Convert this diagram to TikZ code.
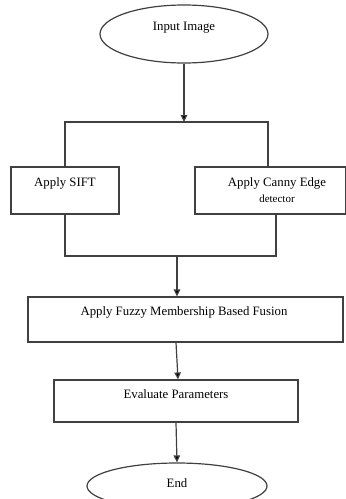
\documentclass[tikz,border=0pt]{standalone}
\usepackage{fontspec}
\setmainfont{Liberation Serif}
\usetikzlibrary{shapes.geometric,arrows.meta}
\begin{document}
\begin{tikzpicture}[x=1pt,y=-1pt,
  line/.style={draw=black!75, line width=1.2pt},
  arr/.style={line, -{Triangle[length=7pt,width=6.5pt,fill=black]}},
  box/.style={line, rectangle, inner sep=0pt},
  oval/.style={line, ellipse, inner sep=0pt},
  lbl/.style={font=\fontsize{12.8}{14}\selectfont, inner sep=0pt, text=black}]
\useasboundingbox (0,0) rectangle (346,499);
% nodes
\node[oval, minimum width=168pt, minimum height=58pt] (in) at (184,34) {};
\node[lbl] at (184,28) {Input Image};
\node[box, minimum width=108pt, minimum height=47pt] (sift) at (65,190.5) {};
\node[lbl] at (65,183) {Apply SIFT};
\node[box, minimum width=151pt, minimum height=47pt] (canny) at (270.5,190.5) {};
\node[lbl] at (277,183) {Apply Canny Edge};
\node[lbl, font=\fontsize{11}{13}\selectfont] at (277,199) {detector};
\node[box, minimum width=315pt, minimum height=45pt] (fuzzy) at (185.5,319.5) {};
\node[lbl] at (184,312) {Apply Fuzzy Membership Based Fusion};
\node[box, minimum width=244pt, minimum height=42pt] (eval) at (176,401) {};
\node[lbl] at (176,394) {Evaluate Parameters};
\node[oval, minimum width=180pt, minimum height=46pt] (end) at (177,486) {};
\node[lbl] at (177,483) {End};
% split / merge points
\coordinate (tl) at (65,122);
\coordinate (tr) at (268,122);
\coordinate (tm) at (184,122);
\coordinate (bl) at (65,256);
\coordinate (br) at (276,256);
\coordinate (bm) at (177,256);
% connectors
\draw[arr] (in.south) -- (tm);
\draw[line] (sift.north -| tl) -- (tl) -- (tr) -- (tr |- canny.north);
\draw[line] (sift.south -| bl) -- (bl) -- (br) -- (br |- canny.south);
\draw[arr] (bm) -- (bm |- fuzzy.north);
\draw[arr] ([xshift=-9.5pt]fuzzy.south) -- ([xshift=2pt]eval.north);
\draw[arr] (eval.south) -- (end.north);
\end{tikzpicture}
\end{document}
